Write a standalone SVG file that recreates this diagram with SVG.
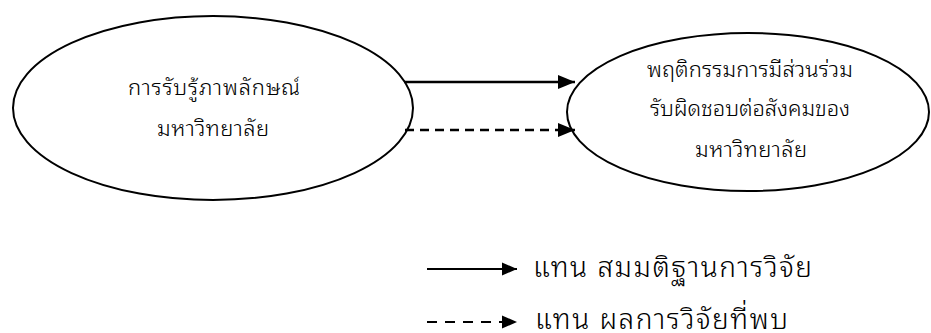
<svg xmlns="http://www.w3.org/2000/svg" width="931" height="333" viewBox="0 0 931 333">
<style>
.node{fill:#fff;stroke:#000;stroke-width:2}
.t{font-family:"Noto Sans Thai Looped","DejaVu Sans",sans-serif;font-size:22px;font-weight:300;fill:#000;text-anchor:middle}
.lg{font-family:"Noto Sans Thai Looped","DejaVu Sans",sans-serif;font-size:28px;font-weight:300;fill:#000}
.c{stroke:#000;stroke-width:2.5;fill:none}
.d{stroke-dasharray:9,6}
.lc{stroke:#000;stroke-width:2;fill:none}
.ld{stroke-dasharray:10,8}
</style>
<defs>
<marker id="ah" markerWidth="18" markerHeight="14" refX="17" refY="7" orient="auto" markerUnits="userSpaceOnUse">
<path d="M0,0 L17,7 L0,14 Z" fill="#000"/>
</marker>
<marker id="ahl" markerWidth="16" markerHeight="14" refX="15" refY="7" orient="auto" markerUnits="userSpaceOnUse">
<path d="M0,0.5 L15,7 L0,13.5 Z" fill="#000"/>
</marker>
</defs>
<rect width="931" height="333" fill="#fff"/>
<g id="node-left">
<ellipse class="node" cx="213" cy="108" rx="200" ry="92"/>
<text class="t" x="214" y="95" textLength="172">การรับรู้ภาพลักษณ์</text>
<text class="t" x="213" y="136" textLength="112">มหาวิทยาลัย</text>
</g>
<g id="node-right">
<ellipse class="node" cx="748" cy="112" rx="181" ry="79"/>
<text class="t" x="750" y="77" textLength="206">พฤติกรรมการมีส่วนร่วม</text>
<text class="t" x="750" y="116" textLength="200">รับผิดชอบต่อสังคมของ</text>
<text class="t" x="751" y="157" textLength="112">มหาวิทยาลัย</text>
</g>
<g id="connectors">
<line class="c" x1="404" y1="82" x2="575" y2="82" marker-end="url(#ah)"/>
<line class="c d" x1="405" y1="130" x2="575" y2="130" marker-end="url(#ah)"/>
</g>
<g id="legend">
<line class="lc" x1="427" y1="269" x2="517" y2="269" marker-end="url(#ahl)"/>
<line class="lc ld" x1="427" y1="322" x2="517" y2="322" marker-end="url(#ahl)"/>
<text class="lg" x="533" y="277" textLength="279">แทน สมมติฐานการวิจัย</text>
<text class="lg" x="535" y="329" textLength="253">แทน ผลการวิจัยที่พบ</text>
</g>
</svg>
